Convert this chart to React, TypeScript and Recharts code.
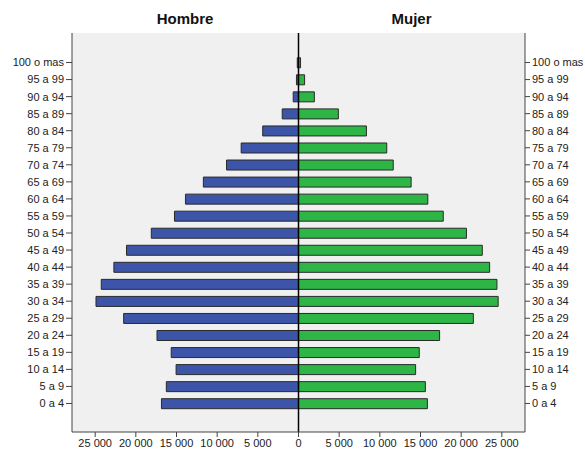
import React from "react"
import {
  BarChart,
  Bar,
  XAxis,
  YAxis,
  CartesianGrid,
  ReferenceLine,
} from "recharts"

// age groups, top to bottom
const ageGroups = [
  "100 o mas", "95 a 99", "90 a 94", "85 a 89", "80 a 84", "75 a 79", "70 a 74",
  "65 a 69", "60 a 64", "55 a 59", "50 a 54", "45 a 49", "40 a 44", "35 a 39",
  "30 a 34", "25 a 29", "20 a 24", "15 a 19", "10 a 14", "5 a 9", "0 a 4",
]

const hombre = [
  150, 250, 650, 2000, 4400, 7050, 8850, 11700, 13900, 15250, 18100, 21150, 22700,
  24250, 24900, 21500, 17400, 15650, 15050, 16250, 16850,
]

const mujer = [
  250, 750, 1950, 4900, 8350, 10850, 11650, 13850, 15900, 17800, 20650, 22600, 23500,
  24400, 24550, 21500, 17350, 14850, 14400, 15600, 15850,
]

const xTicks = [-25000, -20000, -15000, -10000, -5000, 0, 5000, 10000, 15000, 20000, 25000]

const data = ageGroups.map((age, i) => ({
  age,
  hombre: -hombre[i],
  mujer: mujer[i],
}))

const fmt = (v: number) =>
  String(Math.abs(v)).replace(/\B(?=(\d{3})+(?!\d))/g, " ")

const font = "'Liberation Sans', Arial, sans-serif"
const tickStyle = { fill: "#222", fontSize: 11, fontFamily: font }
const domain: [number, number] = [-27850, 27850]

// plain text tick so long labels never wrap
const AgeTick = (props: any) => {
  const { x, y, payload, textAnchor } = props
  return (
    <text x={x} y={y} dy="0.355em" textAnchor={textAnchor} {...tickStyle}>
      {payload.value}
    </text>
  )
}

export default function App() {
  return (
    <div style={{ position: "fixed", left: 0, top: 0, width: 585, height: 450, background: "#fff" }}>
      <div
        style={{
          position: "absolute", left: 72, width: 226, top: 10, textAlign: "center",
          fontFamily: font, fontWeight: "bold", fontSize: 15, color: "#111",
        }}
      >
        Hombre
      </div>
      <div
        style={{
          position: "absolute", left: 298, width: 227, top: 10, textAlign: "center",
          fontFamily: font, fontWeight: "bold", fontSize: 15, color: "#111",
        }}
      >
        Mujer
      </div>
      <BarChart
        width={585}
        height={450}
        data={data}
        layout="vertical"
        stackOffset="sign"
        barCategoryGap="22%"
        margin={{ top: 33, right: 0, bottom: 0, left: 0 }}
      >
        <CartesianGrid fill="#f0f0f0" horizontal={false} vertical={false} />
        <XAxis
          type="number"
          domain={domain}
          ticks={xTicks}
          tickFormatter={fmt}
          height={18}
          tick={tickStyle}
          tickSize={5}
          tickMargin={2}
          stroke="#444"
          allowDataOverflow
        />
        <XAxis
          xAxisId="top"
          type="number"
          orientation="top"
          domain={domain}
          height={0}
          tick={false}
          tickLine={false}
          stroke="#444"
        />
        <YAxis
          yAxisId="left"
          type="category"
          dataKey="age"
          width={72}
          tick={<AgeTick />}
          tickSize={6}
          tickMargin={2}
          stroke="#444"
          interval={0}
          padding={{ top: 21, bottom: 20 }}
        />
        <YAxis
          yAxisId="right"
          type="category"
          dataKey="age"
          orientation="right"
          width={60}
          tick={<AgeTick />}
          tickSize={5}
          tickMargin={2}
          stroke="#444"
          interval={0}
          padding={{ top: 21, bottom: 20 }}
        />
        <Bar
          dataKey="hombre"
          stackId="p"
          yAxisId="left"
          fill="#3d55a8"
          stroke="#2a2a2a"
          strokeWidth={1}
          isAnimationActive={false}
        />
        <Bar
          dataKey="mujer"
          stackId="p"
          yAxisId="left"
          fill="#2db546"
          stroke="#2a2a2a"
          strokeWidth={1}
          isAnimationActive={false}
        />
        <ReferenceLine x={0} yAxisId="left" stroke="#000" strokeWidth={1.5} />
      </BarChart>
    </div>
  )
}
